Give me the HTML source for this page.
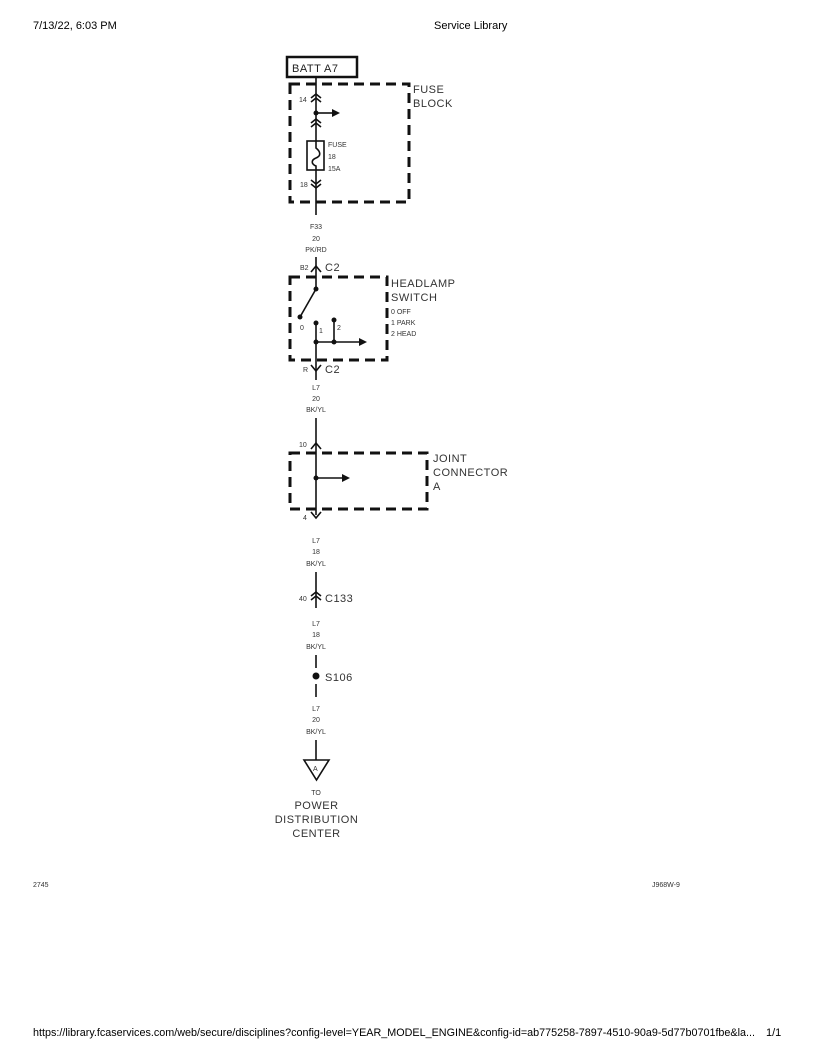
<!DOCTYPE html>
<html><head><meta charset="utf-8"><style>
html,body{margin:0;padding:0;background:#fff;}
svg{display:block;}
text{font-family:"Liberation Sans",sans-serif;fill:#333;}
</style></head><body>
<svg width="816" height="1056" viewBox="0 0 816 1056" xmlns="http://www.w3.org/2000/svg">
<text x="33" y="29" font-size="11" style="fill:#000">7/13/22, 6:03 PM</text>
<text x="434" y="29" font-size="11" style="fill:#000">Service Library</text>
<text x="33" y="1036" font-size="11" textLength="722" lengthAdjust="spacingAndGlyphs" style="fill:#000">https://library.fcaservices.com/web/secure/disciplines?config-level=YEAR_MODEL_ENGINE&amp;config-id=ab775258-7897-4510-90a9-5d77b0701fbe&amp;la...</text>
<text x="766" y="1036" font-size="11" style="fill:#000">1/1</text>
<text x="33" y="887" font-size="7">2745</text>
<text x="652" y="887" font-size="7">J968W-9</text>

<g stroke="#111" fill="none" stroke-width="1.6">
<rect x="287" y="57" width="70" height="20" stroke-width="2.5"/>
<rect x="290" y="84" width="119" height="118" stroke-width="3" stroke-dasharray="10,6"/>
<rect x="290" y="277" width="97" height="83" stroke-width="3" stroke-dasharray="10,6"/>
<rect x="290" y="453" width="137" height="56" stroke-width="3" stroke-dasharray="10,6"/>
<line x1="316" y1="77" x2="316" y2="141"/>
<line x1="316" y1="170" x2="316" y2="215"/>
<line x1="316" y1="257" x2="316" y2="289"/>
<line x1="316" y1="323" x2="316" y2="380"/>
<line x1="316" y1="418" x2="316" y2="515"/>
<line x1="316" y1="572" x2="316" y2="608"/>
<line x1="316" y1="655" x2="316" y2="668"/>
<line x1="316" y1="684" x2="316" y2="697"/>
<line x1="316" y1="740" x2="316" y2="760"/>
<polyline points="311,98 316,94 321,98"/><polyline points="311,102 316,98 321,102"/>
<polyline points="311,123 316,119 321,123"/><polyline points="311,127 316,123 321,127"/>
<polyline points="311,180 316,184 321,180"/><polyline points="311,184 316,188 321,184"/>
<polyline points="311,272 316,266 321,272"/>
<polyline points="311,365 316,371 321,365"/>
<polyline points="311,449 316,443 321,449"/>
<polyline points="311,512 316,518 321,512"/>
<polyline points="311,596 316,592 321,596"/><polyline points="311,600 316,596 321,600"/>
<rect x="307" y="141" width="17" height="29"/>
<path d="M316,141 L316,148 C321,152 321,156 316,158 C311,160 311,164 316,166 L316,170"/>
<line x1="316" y1="113" x2="332" y2="113"/>
<line x1="316" y1="478" x2="342" y2="478"/>
<line x1="316" y1="342" x2="360" y2="342"/>
<line x1="316" y1="289" x2="300" y2="317"/>
<line x1="334" y1="320" x2="334" y2="342"/>
<polygon points="304,760 329,760 316.5,780"/>
</g>
<g fill="#111">
<polygon points="332,109 340,113 332,117"/>
<polygon points="342,474 350,478 342,482"/>
<polygon points="359,338 367,342 359,346"/>
<circle cx="316" cy="113" r="2.5"/>
<circle cx="316" cy="478" r="2.5"/>
<circle cx="316" cy="289" r="2.5"/>
<circle cx="300" cy="317" r="2.5"/>
<circle cx="316" cy="323" r="2.5"/>
<circle cx="334" cy="320" r="2.5"/>
<circle cx="316" cy="342" r="2.5"/>
<circle cx="334" cy="342" r="2.5"/>
<circle cx="316" cy="676" r="3.5"/>
</g>
<g font-size="11" style="letter-spacing:0.5px">
<text x="292" y="72" style="fill:#222">BATT A7</text>
<text x="413" y="93">FUSE</text><text x="413" y="107">BLOCK</text>
<text x="391" y="287">HEADLAMP</text><text x="391" y="301">SWITCH</text>
<text x="433" y="462">JOINT</text><text x="433" y="476">CONNECTOR</text><text x="433" y="490">A</text>
<text x="325" y="271">C2</text>
<text x="325" y="373">C2</text>
<text x="325" y="602">C133</text>
<text x="325" y="681">S106</text>
<text x="316.5" y="809" text-anchor="middle">POWER</text>
<text x="316.5" y="823" text-anchor="middle">DISTRIBUTION</text>
<text x="316.5" y="837" text-anchor="middle">CENTER</text>
</g>
<g font-size="7">
<text x="299" y="102">14</text>
<text x="300" y="187">18</text>
<text x="328" y="147">FUSE</text><text x="328" y="159">18</text><text x="328" y="171">15A</text>
<text x="300" y="270">B2</text>
<text x="391" y="314">0 OFF</text><text x="391" y="325">1 PARK</text><text x="391" y="336">2 HEAD</text>
<text x="300" y="330">0</text><text x="319" y="333">1</text><text x="337" y="330">2</text>
<text x="303" y="372">R</text>
<text x="299" y="447">10</text>
<text x="303" y="520">4</text>
<text x="299" y="601">40</text>
<text x="313" y="771">A</text>
<g text-anchor="middle">
<text x="316" y="229">F33</text><text x="316" y="241">20</text><text x="316" y="252">PK/RD</text>
<text x="316" y="390">L7</text><text x="316" y="401">20</text><text x="316" y="412">BK/YL</text>
<text x="316" y="543">L7</text><text x="316" y="554">18</text><text x="316" y="566">BK/YL</text>
<text x="316" y="626">L7</text><text x="316" y="637">18</text><text x="316" y="649">BK/YL</text>
<text x="316" y="711">L7</text><text x="316" y="722">20</text><text x="316" y="734">BK/YL</text>
<text x="316" y="795">TO</text>
</g>
</g>
</svg>
</body></html>
